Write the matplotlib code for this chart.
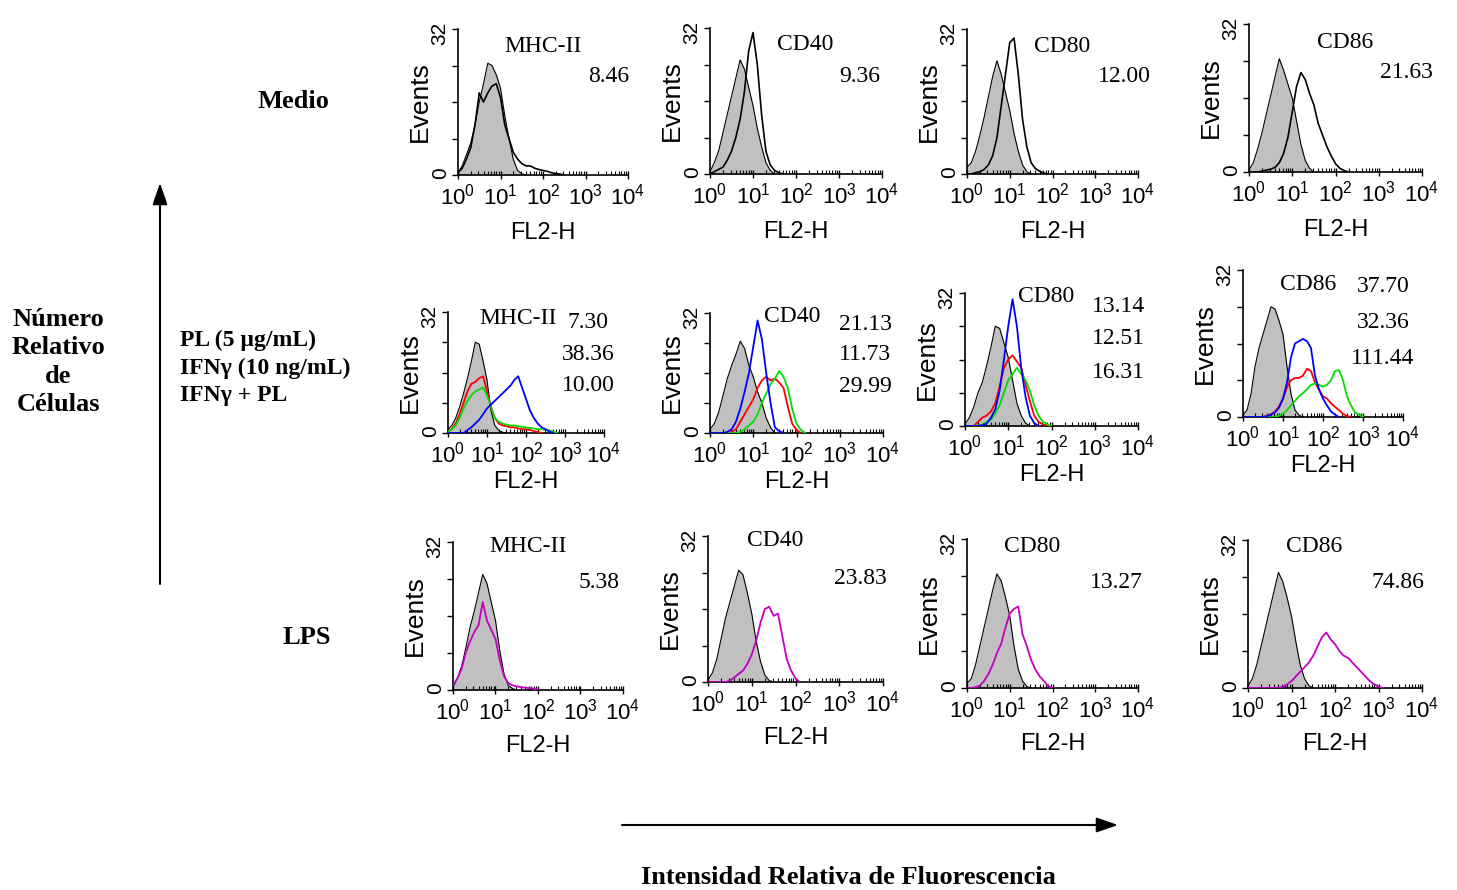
import numpy as np
import matplotlib
matplotlib.use('Agg')
from matplotlib import pyplot as plt

# Histogramas de citometria (FL2-H). Cada lista son eventos por canal,
# canales separados 0.1 decadas a partir de 10^0
paso = 0.1
marcadores = ['MHC-II', 'CD40', 'CD80', 'CD86']

# Fila 1: Medio (control gris e histograma negro)
medio_gris = [
    [0.5, 2, 4.5, 7, 11, 16, 20, 24.5, 24, 22, 19, 13, 8, 3.5, 1, 0.3, 0],
    [0.5, 2.5, 5, 9, 13, 17, 21, 25, 23, 19, 15, 10, 6, 2.5, 0.8, 0],
    [1.5, 2.5, 5, 8.5, 12.5, 17, 21.5, 25, 22, 18, 14, 9, 5, 2, 0.5, 0],
    [0.5, 2, 5, 8.5, 12.5, 16.5, 20.5, 24.5, 22, 19, 16, 11, 6, 2.5, 0.8, 0],
]
medio_negro = [
    [0.5, 1.5, 3.5, 6, 11, 18, 16, 18, 19.5, 20, 17, 11, 8, 5, 3.5, 2.5, 2, 2,
     1.5, 1.2, 1, 0.8, 0.5, 0.3, 0.2, 0],
    [0, 0.5, 1, 1.5, 3, 5, 8, 12, 18, 27, 31, 24, 13, 5, 2, 0.8, 0.3, 0],
    [0, 0, 0.3, 0.5, 1, 2, 4, 8, 15, 22, 29, 30, 22, 12, 6, 2.5, 1.2, 0.6, 0.2, 0],
    [0, 0, 0, 0.2, 0.4, 0.6, 1, 2, 4, 7.5, 13, 18.5, 21.5, 20, 17, 14.5, 10.5,
     8, 5.5, 3.5, 1.8, 0.8, 0.3, 0],
]

# Fila 2: PL, IFNg, IFNg + PL
trat_gris = [
    [1, 2, 4, 7, 10.5, 14.5, 19, 24, 23.5, 19, 14, 6, 2, 0.7, 0.2, 0],
    [1, 2.5, 5.5, 10, 14.5, 18, 21, 24.5, 22.5, 18, 15, 11, 8, 4, 1.5, 0],
    [0.5, 2, 4.5, 8, 10.5, 14.5, 19, 24, 23.5, 20, 16.5, 11, 5.5, 2.5, 0.7, 0],
    [0.5, 1.5, 5, 11, 15, 18, 21, 24, 23.5, 21, 18, 11, 5, 1.5, 0.4, 0],
]
trat_pl = [  # rojo
    [0.5, 1, 2.5, 5, 8, 11, 13, 13.5, 14.5, 15, 11, 7, 4, 2.5, 2, 1.8, 1.5,
     1.5, 1.2, 1, 1, 0.8, 0.5, 0.3, 0],
    [0, 0, 0, 0, 0, 0.3, 1, 3, 5, 7, 9, 12, 14, 15, 14, 14.5, 13.5, 12, 7,
     2.5, 0.8, 0],
    [0, 0, 0, 1, 2, 2.5, 3.5, 5.5, 9.5, 14, 16, 17, 15.5, 14, 10, 6, 2.5, 1,
     0.4, 0],
    [0, 0, 0, 0, 0, 0, 0.3, 0.6, 1.2, 2.3, 4, 6.5, 8, 8.5, 8.5, 9, 10.5, 10,
     7.5, 6, 4.5, 4, 3, 2.2, 1.5, 0.7, 0.2, 0],
]
trat_ifn = [  # azul
    [0, 0, 0, 0, 0, 0.8, 1.5, 2.5, 3.5, 5, 6.5, 7.5, 8.5, 9.5, 10.5, 11.5,
     12.5, 14, 15, 12, 9, 6, 4, 2.5, 1.5, 1, 0.4, 0],
    [0, 0, 0, 0, 0.3, 1, 3, 6.5, 11, 16, 23, 30, 25, 16, 8, 1.5, 0.5, 0],
    [0, 0, 0, 0, 0.2, 0.6, 2, 4, 8.5, 16, 24, 30.5, 24, 14, 7, 2.5, 0.7, 0],
    [0, 0, 0, 0, 0, 0, 0.2, 0.5, 1, 2, 4, 7.5, 13, 16, 16.5, 17, 16.5, 15, 9,
     6, 4, 2.5, 1.2, 0.5, 0],
]
trat_ifn_pl = [  # verde
    [0.3, 1, 2, 4, 6.5, 8.5, 10, 11, 11.5, 12, 10, 7, 4, 3, 2.5, 2.2, 2, 2,
     1.8, 1.6, 1.5, 1.3, 1.2, 1, 1, 0.8, 0.6, 0.4, 0],
    [0, 0, 0, 0, 0, 0, 0, 0.3, 1, 2, 3, 5, 8, 10.5, 13, 14.5, 16.5, 15, 12,
     6.5, 2.5, 0.8, 0],
    [0, 0, 0, 0, 0.4, 1, 1.5, 3, 5, 8, 11, 12.5, 14, 12.5, 11, 8.5, 5, 2.5, 1,
     0.4, 0],
    [0, 0, 0, 0, 0, 0, 0, 0, 0, 0.3, 0.7, 1.5, 2.5, 3.5, 4.5, 5.2, 6, 7, 7.3,
     7, 6.6, 7, 8, 10, 10.2, 8, 4.5, 2.5, 1, 0.5, 0],
]

# Fila 3: LPS
lps_gris = [
    [0.5, 2.5, 5, 9, 13.5, 17, 21, 25, 23, 19, 15, 8.5, 3.5, 1, 0.3, 0],
    [0.5, 2, 5, 9.5, 14, 17.5, 21, 24.5, 23.5, 19.5, 15, 9, 4.5, 1.5, 0.3, 0],
    [1, 2, 5, 9, 13, 17, 21, 24.5, 23, 19.5, 15.5, 9, 4, 1.5, 0.3, 0],
    [0.5, 2, 5, 9, 13, 17, 21, 25, 23, 19.5, 15.5, 10, 5, 2, 0.5, 0],
]
lps_magenta = [
    [1, 2.5, 4.5, 8, 10.5, 12.5, 14, 19, 15, 13, 11, 6.5, 3, 1.5, 1, 0.8, 0.6,
     0.5, 0.4, 0.3, 0],
    [0, 0, 0, 0, 0, 0.3, 1, 1.8, 2.5, 4, 6, 9, 13, 16, 16.5, 14.5, 15, 10, 5,
     2.5, 0.8, 0],
    [0, 0, 0.2, 0.5, 1.5, 3, 5, 7.5, 9.5, 13, 16, 17, 17.5, 11.5, 9, 6, 4, 2.5,
     1.5, 0.4, 0],
    [0, 0, 0, 0, 0, 0, 0, 0, 0.3, 0.8, 1.5, 2.5, 3.5, 4.5, 5.5, 7, 9, 11, 12,
     10.5, 9.5, 8, 7, 6.5, 5.5, 4.5, 3.5, 2.5, 1.5, 0.8, 0.3, 0],
]

medio_valores = ['8.46', '9.36', '12.00', '21.63']
trat_valores = [['7.30', '38.36', '10.00'], ['21.13', '11.73', '29.99'],
                ['13.14', '12.51', '16.31'], ['37.70', '32.36', '111.44']]
lps_valores = ['5.38', '23.83', '13.27', '74.86']

W, H = 1457, 890
plt.rcParams['font.family'] = ['Liberation Sans', 'DejaVu Sans']
fig = plt.figure(figsize=(W / 100, H / 100), dpi=100)

# posicion de cada panel en pixeles (izq, arriba, der, abajo) y separacion de FL2-H
cajas = [
    [(458, 29, 628, 175), (710, 28, 882, 174), (967, 29, 1138, 174), (1249, 24, 1422, 172)],
    [(448, 312, 604, 433), (710, 313, 883, 433), (965, 293, 1138, 426), (1243, 270, 1403, 417)],
    [(453, 542, 623, 690), (708, 536, 883, 682), (967, 539, 1138, 688), (1248, 540, 1422, 688)],
]
sep_xlabel = [58, 49, 56]

# posiciones de titulos y numeros (pixeles, centro)
pos_titulo = [[(543, 46), (805, 44), (1062, 46), (1345, 42)],
              [(518, 318), (792, 316), (1046, 296), (1308, 284)],
              [(528, 547), (775, 541), (1032, 546), (1314, 546)]]
pos_valor = [[(609, 77), (860, 76), (1124, 77), (1406, 73)],
             [(588, 323), (865, 324), (1118, 306), (1383, 286)],
             [(599, 583), (860, 578), (1116, 583), (1398, 583)]]
sep_valor = [31, 31, 33, 36]


def curva(valores):
    x = 10 ** (paso * np.arange(len(valores)))
    return x, np.array(valores, dtype=float)


def panel(fila, col):
    l, t, r, b = cajas[fila][col]
    ax = fig.add_axes([l / W, 1 - b / H, (r - l) / W, (b - t) / H])
    ax.set_xscale('log')
    ax.set_xlim(1, 1e4)
    ax.set_ylim(0, 32)
    ax.set_yticks([0, 8, 16, 24, 32])
    ax.set_yticklabels(['0', '', '', '', '32'])
    ax.xaxis.set_major_locator(matplotlib.ticker.LogLocator(base=10, numticks=10))
    ax.xaxis.set_minor_locator(matplotlib.ticker.LogLocator(base=10, subs=np.arange(2, 10), numticks=20))
    ax.xaxis.set_minor_formatter(matplotlib.ticker.NullFormatter())
    ax.tick_params(axis='x', which='major', direction='inout', length=6, width=1,
                   labelsize=16, pad=3)
    ax.tick_params(axis='x', which='minor', direction='in', length=3, width=0.8)
    ax.tick_params(axis='y', direction='out', length=4, width=1, labelsize=15,
                   labelrotation=90, pad=2)
    for s in ['top', 'right']:
        ax.spines[s].set_visible(False)
    for s in ['left', 'bottom']:
        ax.spines[s].set_linewidth(1.2)
    ax.set_ylabel('Events', fontsize=19, va='center')
    ax.yaxis.set_label_coords(-38 / (r - l), 0.5)
    ax.set_xlabel('FL2-H', fontsize=17)
    ax.xaxis.set_label_coords(0.5, -sep_xlabel[fila] / (b - t))
    ax.xaxis.label.set_va('center')
    ax.patch.set_alpha(0)
    return ax


def control(ax, valores):
    x, y = curva(valores)
    ax.fill_between(x, y, 0, color='#c0c0c0', lw=0, zorder=1)
    ax.plot(x, y, color='black', lw=0.8, zorder=2)


def linea(ax, valores, color, lw=1.3):
    x, y = curva(valores)
    ax.plot(x, y, color=color, lw=lw, zorder=3)


def textos(fila, col, valores):
    tx, ty = pos_titulo[fila][col]
    fig.text(tx / W, 1 - ty / H, marcadores[col], family='Liberation Serif',
             fontsize=17, ha='center', va='center')
    vx, vy = pos_valor[fila][col]
    for k, v in enumerate(valores):
        fig.text(vx / W, 1 - (vy + k * sep_valor[col]) / H, v, family='Liberation Serif',
                 fontsize=17, ha='center', va='center')


for c in range(4):
    ax = panel(0, c)
    control(ax, medio_gris[c])
    linea(ax, medio_negro[c], 'black', 1.2)
    textos(0, c, [medio_valores[c]])

    ax = panel(1, c)
    control(ax, trat_gris[c])
    linea(ax, trat_pl[c], '#ff0000')
    linea(ax, trat_ifn_pl[c], '#00dd00')
    linea(ax, trat_ifn[c], '#0000ff')
    textos(1, c, trat_valores[c])

    ax = panel(2, c)
    control(ax, lps_gris[c])
    linea(ax, lps_magenta[c], '#c400c4')
    textos(2, c, [lps_valores[c]])

# textos y flechas del esquema
fondo = fig.add_axes([0, 0, 1, 1], zorder=-1)
fondo.set_xlim(0, W)
fondo.set_ylim(H, 0)
fondo.axis('off')

negrita = dict(family='Liberation Serif', weight='bold', color='black')
fondo.text(293, 102, 'Medio', fontsize=19, ha='center', va='center', **negrita)
fondo.text(307, 637, 'LPS', fontsize=19, ha='center', va='center', **negrita)
fondo.text(58, 362, 'Número\nRelativo\nde\nCélulas', fontsize=19, ha='center',
           va='center', multialignment='center', linespacing=1.3, **negrita)
for k, t in enumerate(['PL (5 µg/mL)', 'IFNγ (10 ng/mL)', 'IFNγ + PL']):
    fondo.text(180, 340 + 28 * k, t, fontsize=17, ha='left', va='center', **negrita)
fondo.text(848, 877, 'Intensidad Relativa de Fluorescencia', fontsize=19,
           ha='center', va='center', **negrita)

fondo.annotate('', xy=(160, 183), xytext=(160, 584),
               arrowprops=dict(arrowstyle='-|>,head_length=1.3,head_width=0.45',
                               color='black', lw=1.5, shrinkA=0, shrinkB=0))
fondo.annotate('', xy=(1118, 825), xytext=(622, 825),
               arrowprops=dict(arrowstyle='-|>,head_length=1.3,head_width=0.45',
                               color='black', lw=1.5, shrinkA=0, shrinkB=0))

plt.savefig('out.png', dpi=100)
